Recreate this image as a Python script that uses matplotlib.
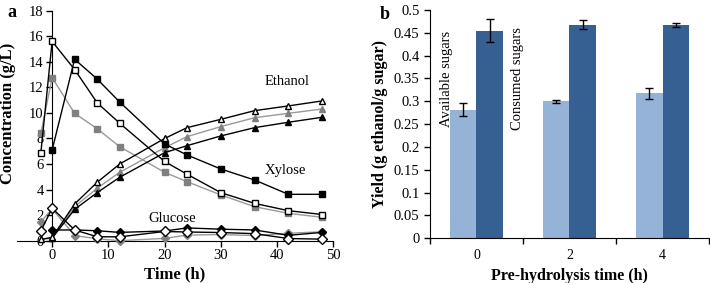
import matplotlib
matplotlib.use('Agg')
import matplotlib.pyplot as plt
import numpy as np

plt.rcParams['font.family'] = ['Liberation Serif', 'DejaVu Serif']

# panel a: sampling times and concentrations (g/L)
t_black = [0, 4, 8, 12, 20, 24, 30, 36, 42, 48]
t_open = [-2, 0, 4, 8, 12, 20, 24, 30, 36, 42, 48]
t_gray = [-2, 0, 4, 8, 12, 20, 24, 30, 36, 42, 48]

xyl_black = [7.1, 14.2, 12.66, 10.86, 7.57, 6.71, 5.61, 4.75, 3.63, 3.63]
xyl_open = [6.9, 15.6, 13.4, 10.8, 9.2, 6.2, 5.2, 3.76, 2.92, 2.35, 2.05]
xyl_gray = [8.4, 12.77, 9.97, 8.77, 7.36, 5.35, 4.62, 3.58, 2.66, 2.14, 1.83]

eth_black = [0.2, 2.45, 3.76, 4.96, 6.89, 7.44, 8.2, 8.85, 9.27, 9.66]
eth_open = [0.1, 0.26, 2.87, 4.57, 6.0, 8.0, 8.85, 9.5, 10.18, 10.55, 10.94]
eth_gray = [0.1, 0.2, 2.66, 4.1, 5.35, 7.28, 8.15, 8.93, 9.63, 9.97, 10.31]

glu_black = [0.84, 0.84, 0.78, 0.65, 0.76, 1.0, 0.9, 0.84, 0.42, 0.65]
glu_open = [0.76, 2.55, 0.84, 0.31, 0.3, 0.72, 0.68, 0.64, 0.55, 0.17, 0.12]
glu_gray = [1.48, 2.5, 0.4, 0.15, 0.0, 0.18, 0.44, 0.48, 0.4, 0.58, 0.7]

# panel b: yields
prehyd = ['0', '2', '4']
yield_avail = [0.282, 0.300, 0.318]
err_avail = [0.0135, 0.003, 0.012]
yield_cons = [0.455, 0.468, 0.468]
err_cons = [0.026, 0.009, 0.0045]

GRAY = '#808080'
LIGHT = '#95b3d7'
DARK = '#376092'

fig = plt.figure(figsize=(7.1, 2.83), dpi=100)

# ---- panel a ----
ax = fig.add_axes([0.0235, 0.1495, 0.446, 0.8125])
ms = 5
for t, ys, mk in [(t_gray, xyl_gray, 's'), (t_gray, eth_gray, '^'), (t_gray, glu_gray, 'D')]:
    ax.plot(t, ys, color='#999999', lw=1, marker=mk, ms=ms if mk != 'D' else 4.5,
            mfc=GRAY, mec=GRAY, clip_on=False, zorder=3)
for t, ys, mk in [(t_black, xyl_black, 's'), (t_black, eth_black, '^'), (t_black, glu_black, 'D')]:
    ax.plot(t, ys, color='black', lw=1, marker=mk, ms=ms if mk != 'D' else 4.5,
            mfc='black', mec='black', clip_on=False, zorder=4)
for t, ys, mk in [(t_open, xyl_open, 's'), (t_open, eth_open, '^'), (t_open, glu_open, 'D')]:
    ax.plot(t, ys, color='black', lw=1, marker=mk, ms=ms if mk != 'D' else 5,
            mfc='white', mec='black', mew=1, clip_on=False, zorder=5)

ax.set_xlim(-6.3, 50)
ax.set_ylim(0, 18)
ax.spines['left'].set_position(('data', 0))
ax.spines['top'].set_visible(False)
ax.spines['right'].set_visible(False)
ax.set_xticks(range(0, 51, 10))
ax.set_yticks(range(0, 19, 2))
ax.tick_params(labelsize=10.5, length=4, width=1, pad=2)
ax.set_xlabel('Time (h)', fontsize=12, fontweight='bold', labelpad=3)
fig.text(0.011, 0.6, 'Concentration (g/L)', rotation=90, fontsize=12,
         fontweight='bold', ha='center', va='center')
ax.text(41.7, 12.5, 'Ethanol', fontsize=10.5, ha='center', va='center')
ax.text(41.4, 5.5, 'Xylose', fontsize=10.5, ha='center', va='center')
ax.text(21.3, 1.75, 'Glucose', fontsize=10.5, ha='center', va='center')
fig.text(0.011, 0.955, 'a', fontsize=13, fontweight='bold', ha='left', va='center')

# ---- panel b ----
bx = fig.add_axes([0.6056, 0.158, 0.393, 0.8067])
x = np.arange(len(prehyd))
w = 0.286
bx.bar(x - w / 2, yield_avail, w, color=LIGHT, yerr=err_avail, capsize=3,
       error_kw=dict(elinewidth=1, capthick=1, ecolor='black'))
bx.bar(x + w / 2, yield_cons, w, color=DARK, yerr=err_cons, capsize=3,
       error_kw=dict(elinewidth=1, capthick=1, ecolor='black'))
bx.set_xlim(-0.5, 2.5)
bx.set_ylim(0, 0.5)
bx.spines['top'].set_visible(False)
bx.spines['right'].set_visible(False)
bx.set_yticks(np.arange(0, 0.501, 0.05))
bx.set_yticklabels([f'{v:g}' for v in np.round(np.arange(0, 0.501, 0.05), 2)])
bx.set_xticks([-0.5, 0.5, 1.5, 2.5])
bx.set_xticklabels([])
bx.set_xticks(x, minor=True)
bx.set_xticklabels(prehyd, minor=True)
bx.tick_params(axis='x', which='minor', length=0, pad=8)
bx.tick_params(labelsize=10.5, length=4, width=1)
bx.set_xlabel('Pre-hydrolysis time (h)', fontsize=11.5, fontweight='bold', labelpad=4)
bx.set_ylabel('Yield (g ethanol/g sugar)', fontsize=11.5, fontweight='bold', labelpad=4)
bx.text(-0.32, 0.35, 'Available sugars', rotation=90, fontsize=10.5, ha='center', va='center')
bx.text(0.445, 0.35, 'Consumed sugars', rotation=90, fontsize=10.5, ha='center', va='center')
fig.text(0.535, 0.948, 'b', fontsize=13, fontweight='bold', ha='left', va='center')

fig.savefig('out.png', dpi=100)
